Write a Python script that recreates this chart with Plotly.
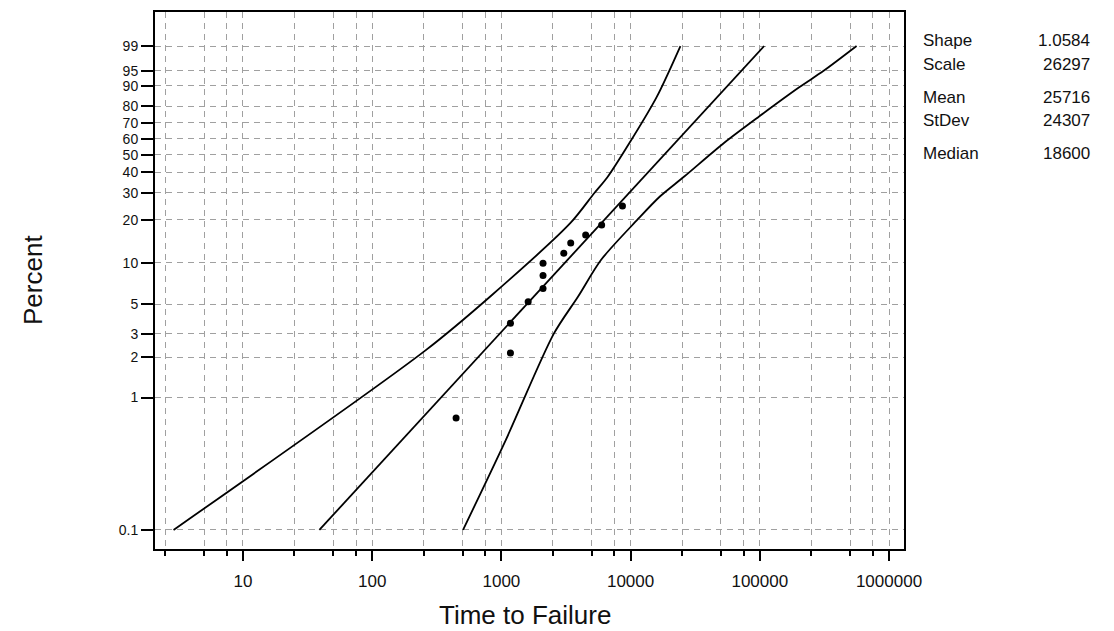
import numpy as np
import plotly.graph_objects as go

# ---- data (Weibull probability plot) ----
fail_time = [446, 1175, 1175, 1611, 2100, 2100, 2100, 3040, 3440, 4490, 5970, 8650]
fail_pct = [0.70, 2.16, 3.6, 5.2, 6.5, 8.1, 9.9, 11.7, 13.8, 15.7, 18.4, 24.7]

fit_time = [39, 108000]
fit_pct = [0.1, 99]

upper_time = [2.9, 257, 837, 3425, 5245, 6590, 9790, 15900, 24300]
upper_pct = [0.1, 2.25, 5.78, 19.0, 29.9, 37.2, 57.2, 84.9, 99]

lower_time = [505, 1083, 2540, 3925, 5915, 11300, 16850, 26000, 52500, 99300, 203000, 310000, 561000]
lower_pct = [0.1, 0.48, 3.0, 5.68, 10.5, 20.0, 28.4, 37.7, 57.1, 74.2, 89.5, 94.9, 99]

y_tick_pct = [0.1, 1, 2, 3, 5, 10, 20, 30, 40, 50, 60, 70, 80, 90, 95, 99]
y_tick_text = ["0.1", "1", "2", "3", "5", "10", "20", "30", "40", "50", "60", "70", "80", "90", "95", "99"]
x_major = [10, 100, 1000, 10000, 100000, 1000000]
x_major_text = ["10", "100", "1000", "10000", "100000", "1000000"]
x_minor_mult = [2.5, 5, 7.5]

stat_names = ["Shape", "Scale", "Mean", "StDev", "Median"]
stat_values = ["1.0584", "26297", "25716", "24307", "18600"]


def wb(p):
    p = np.asarray(p, dtype=float) / 100.0
    return np.log(-np.log(1.0 - p))


x_minor = [m * d for d in [1, 10, 100, 1000, 10000, 100000] for m in x_minor_mult]

FONT = "Liberation Sans, Arial, sans-serif"
PAGE_OFF = 8  # default body margin of the page
W, H = 1114 - PAGE_OFF, 631 - PAGE_OFF
ML, MT = 155 - PAGE_OFF, 10 - PAGE_OFF
PW, PH = 749, 539
MR = W - ML - PW
MB = H - MT - PH


def px(xr):
    return (xr - PAGE_OFF - ML) / PW


def py(yr):
    return 1 - (yr - PAGE_OFF - MT) / PH


fig = go.Figure()
line_style = dict(color="black", width=1.8)
fig.add_trace(go.Scatter(x=upper_time, y=wb(upper_pct), mode="lines", line=line_style,
                         line_shape="spline", line_smoothing=0.8, hoverinfo="skip"))
fig.add_trace(go.Scatter(x=fit_time, y=wb(fit_pct), mode="lines", line=line_style, hoverinfo="skip"))
fig.add_trace(go.Scatter(x=lower_time, y=wb(lower_pct), mode="lines", line=line_style,
                         line_shape="spline", line_smoothing=0.8, hoverinfo="skip"))
fig.add_trace(go.Scatter(x=fail_time, y=wb(fail_pct), mode="markers",
                         marker=dict(color="black", size=7)))

grid = dict(showgrid=True, gridcolor="#a0a0a0", gridwidth=1, griddash="6px,5px")

fig.update_xaxes(
    type="log", range=[0.319, 6.116],
    tickmode="array", tickvals=x_major, ticktext=x_major_text,
    ticks="outside", ticklen=10, tickwidth=1.5, tickcolor="black",
    ticklabelstandoff=6,
    showline=True, linecolor="black", linewidth=2, mirror=True,
    zeroline=False,
    tickfont=dict(family=FONT, size=17, color="#111"),
    minor=dict(tickmode="array", tickvals=x_minor, ticks="outside", ticklen=5,
               tickwidth=1.5, tickcolor="black", showgrid=True,
               gridcolor="#a0a0a0", gridwidth=1, griddash="6px,5px"),
    **grid,
)
fig.update_yaxes(
    range=[-7.24, 2.12],
    tickmode="array", tickvals=wb(y_tick_pct), ticktext=y_tick_text,
    ticks="outside", ticklen=12, tickwidth=1.5, tickcolor="black",
    showline=True, linecolor="black", linewidth=2, mirror=True,
    zeroline=False,
    tickfont=dict(family=FONT, size=14, color="#111"),
    **grid,
)

annotations = [
    dict(text="Percent", xref="paper", yref="paper",
         x=px(33), y=py(279), textangle=-90,
         showarrow=False, font=dict(family=FONT, size=26, color="#111"),
         xanchor="center", yanchor="middle"),
    dict(text="Time to Failure", xref="paper", yref="paper",
         x=px(525), y=py(615),
         showarrow=False, font=dict(family=FONT, size=26, color="#111"),
         xanchor="center", yanchor="middle"),
]
stat_y = [39, 63, 96, 119, 152]
for name, val, yy in zip(stat_names, stat_values, stat_y):
    annotations.append(dict(text=name, xref="paper", yref="paper",
                            x=px(921), y=py(yy), xanchor="left",
                            yanchor="middle", showarrow=False,
                            font=dict(family=FONT, size=17, color="#111")))
    annotations.append(dict(text=val, xref="paper", yref="paper",
                            x=px(1092), y=py(yy), xanchor="right",
                            yanchor="middle", showarrow=False,
                            font=dict(family=FONT, size=17, color="#111")))

fig.update_layout(
    width=W, height=H,
    margin=dict(l=ML, r=MR, t=MT, b=MB),
    paper_bgcolor="white", plot_bgcolor="white",
    showlegend=False,
    annotations=annotations,
    font=dict(family=FONT),
)

fig.write_html("out.html")
